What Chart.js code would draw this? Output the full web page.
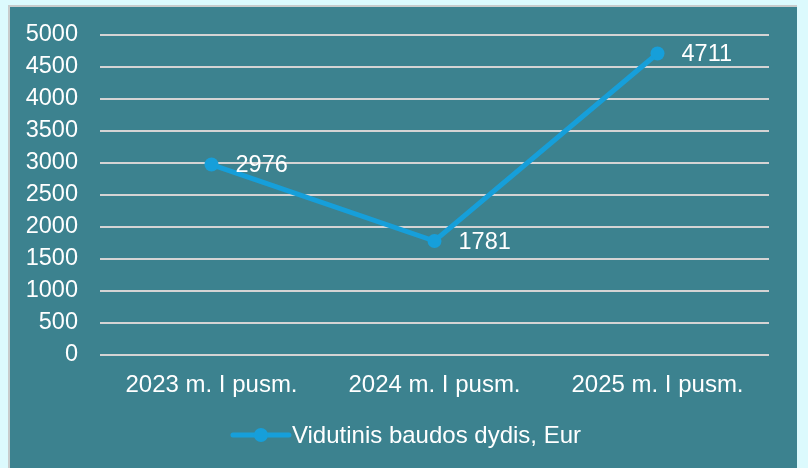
<!DOCTYPE html>
<html>
<head>
<meta charset="utf-8">
<script src="https://cdn.jsdelivr.net/npm/chart.js@4"></script>
<style>
  html, body { margin: 0; padding: 0; background: #dcfafd; }
  #box {
    position: absolute; left: 8px; top: 5px;
    width: 787px; height: 470px;
    background: #3c828f;
    border-left: 2px solid #c8cccc; border-top: 2px solid #c8cccc;
  }
  #box canvas { display: block; }
</style>
</head>
<body>
<div id="box"><canvas id="chart" width="787" height="461"></canvas></div>
<script>
// chart data
const categories = ['2023 m. I pusm.', '2024 m. I pusm.', '2025 m. I pusm.'];
const values = [2976, 1781, 4711];
const seriesName = 'Vidutinis baudos dydis, Eur';
const lineColor = '#169fda';
const fontFamily = 'Liberation Sans, Arial, sans-serif';

// value labels next to each point + custom legend
const labelsPlugin = {
    id: 'labelsPlugin',
    afterDatasetsDraw(chart) {
        const ctx = chart.ctx;
        const meta = chart.getDatasetMeta(0);
        ctx.save();
        ctx.fillStyle = '#ffffff';
        ctx.font = '23.5px ' + fontFamily;
        ctx.textAlign = 'left';
        ctx.textBaseline = 'middle';
        meta.data.forEach(function (pt, i) {
            ctx.fillText(String(values[i]), pt.x + 24, pt.y + 1);
        });
        ctx.restore();
    },
    afterDraw(chart) {
        const ctx = chart.ctx;
        ctx.save();
        ctx.font = '24px ' + fontFamily;
        const tw = ctx.measureText(seriesName).width;
        const total = 56 + 4 + tw;
        const x0 = chart.width / 2 - total / 2 + 4;
        const y = 428;
        ctx.strokeStyle = lineColor;
        ctx.lineWidth = 5;
        ctx.lineCap = 'round';
        ctx.beginPath();
        ctx.moveTo(x0, y);
        ctx.lineTo(x0 + 56, y);
        ctx.stroke();
        ctx.fillStyle = lineColor;
        ctx.beginPath();
        ctx.arc(x0 + 28, y, 7, 0, Math.PI * 2);
        ctx.fill();
        ctx.fillStyle = '#ffffff';
        ctx.textAlign = 'left';
        ctx.textBaseline = 'middle';
        ctx.fillText(seriesName, x0 + 59, y + 1);
        ctx.restore();
    }
};

new Chart(document.getElementById('chart'), {
    type: 'line',
    data: {
        labels: categories,
        datasets: [{
            label: seriesName,
            data: values,
            borderColor: lineColor,
            backgroundColor: lineColor,
            borderWidth: 5,
            pointRadius: 7,
            pointHoverRadius: 7,
            pointBackgroundColor: lineColor,
            pointBorderWidth: 0,
            tension: 0
        }]
    },
    options: {
        responsive: false,
        animation: false,
        layout: { padding: { left: 0, right: 28, top: 28, bottom: 53 } },
        plugins: {
            legend: { display: false },
            tooltip: { enabled: false }
        },
        scales: {
            x: {
                offset: true,
                grid: { display: false, drawTicks: false },
                border: { display: false },
                ticks: { color: '#ffffff', font: { size: 24, family: fontFamily }, padding: 16 },
                afterFit: function (s) { s.height = 60; }
            },
            y: {
                min: 0,
                max: 5000,
                grid: { color: '#d4d4d4', lineWidth: 2, drawTicks: false },
                border: { display: false },
                ticks: {
                    stepSize: 500, autoSkip: false, color: '#ffffff',
                    font: { size: 23.5, family: fontFamily }, padding: 22,
                    callback: function (v) { return String(v); }
                },
                afterFit: function (s) { s.width = 90; s.paddingTop = 0; s.paddingBottom = 0; }
            }
        }
    },
    plugins: [labelsPlugin]
});
</script>
</body>
</html>
